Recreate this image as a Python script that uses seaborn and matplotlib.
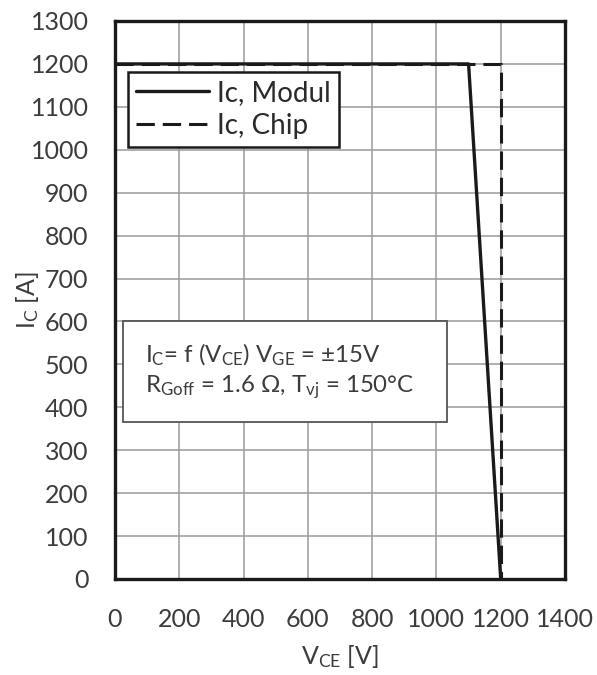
import matplotlib
matplotlib.use("Agg")
import matplotlib.pyplot as plt
from matplotlib.patches import Rectangle
import seaborn as sns
import pandas as pd

# Reverse-bias safe operating area: collector current vs. collector-emitter voltage
vce_modul = [0, 1100, 1200]
ic_modul = [1200, 1200, 0]
vce_chip = [0, 1200, 1200]
ic_chip = [1200, 1200, 0]

x_ticks = [0, 200, 400, 600, 800, 1000, 1200, 1400]
y_ticks = list(range(0, 1301, 100))

sns.set_theme(style="white")
plt.rcParams["font.family"] = ["Lato", "DejaVu Sans"]
plt.rcParams["mathtext.fontset"] = "custom"
plt.rcParams["mathtext.rm"] = "Lato"
plt.rcParams["mathtext.it"] = "Lato"

df_modul = pd.DataFrame({"VCE": vce_modul, "IC": ic_modul})
df_chip = pd.DataFrame({"VCE": vce_chip, "IC": ic_chip})

text_col = "#3c3c3c"
line_col = "#1a1a1a"

fig = plt.figure(figsize=(5.97, 6.75), dpi=100)
ax = fig.add_axes([115 / 597, 1 - 579 / 675, 450 / 597, 558 / 675])

sns.lineplot(data=df_chip, x="VCE", y="IC", ax=ax, color=line_col, lw=2.2,
             linestyle=(0, (6, 2.6)), sort=False, estimator=None,
             label="Ic, Chip", zorder=3)
sns.lineplot(data=df_modul, x="VCE", y="IC", ax=ax, color=line_col, lw=2.4,
             sort=False, estimator=None, label="Ic, Modul", zorder=4)

ax.set_xlim(0, 1400)
ax.set_ylim(0, 1300)
ax.set_xticks(x_ticks)
ax.set_yticks(y_ticks)
ax.set_xticklabels([str(v) for v in x_ticks])
ax.set_yticklabels([str(v) for v in y_ticks])
ax.grid(True, color="#9a9a9a", lw=1.1)
ax.set_axisbelow(True)
for s in ax.spines.values():
    s.set_color(line_col)
    s.set_linewidth(2.4)
ax.tick_params(axis="both", length=0, labelsize=18, colors=text_col)
ax.tick_params(axis="y", pad=19)
ax.tick_params(axis="x", pad=21)

ax.set_xlabel(r"V$_{\mathregular{CE}}$ [V]", fontsize=18, color=text_col)
ax.set_ylabel(r"I$_{\mathregular{C}}$ [A]", fontsize=18, color=text_col)
ax.xaxis.set_label_coords(0.5, -0.115)
ax.yaxis.set_label_coords(-0.165, 0.5)

handles, labels = ax.get_legend_handles_labels()
order = [labels.index("Ic, Modul"), labels.index("Ic, Chip")]
leg = ax.legend([handles[i] for i in order], [labels[i] for i in order],
                loc="upper left", bbox_to_anchor=(0.029, 0.909),
                fontsize=20, frameon=True, fancybox=False, framealpha=1,
                edgecolor=line_col, handlelength=2.6, handletextpad=0.3,
                borderpad=0.3, labelspacing=0.25, borderaxespad=0)
leg.get_frame().set_linewidth(1.8)
for t in leg.get_texts():
    t.set_color("#2a2a2a")

# Test-condition box
ax.add_patch(Rectangle((0.0178, 0.2814), 0.72, 0.181, transform=ax.transAxes,
                       fc="white", ec="#555555", lw=1.3, zorder=5))
note = (r"I$_{\mathregular{C}}$= f (V$_{\mathregular{CE}}$) V$_{\mathregular{GE}}$ = $\pm$15V" "\n"
        r"R$_{\mathregular{Goff}}$ = 1.6 $\Omega$, T$_{\mathregular{vj}}$ = 150°C")
ax.text(0.0667, 0.372, note, transform=ax.transAxes, fontsize=17.3, color=text_col,
        va="center", ha="left", linespacing=1.25, zorder=6)

fig.savefig("out.png", dpi=100, facecolor="white")
